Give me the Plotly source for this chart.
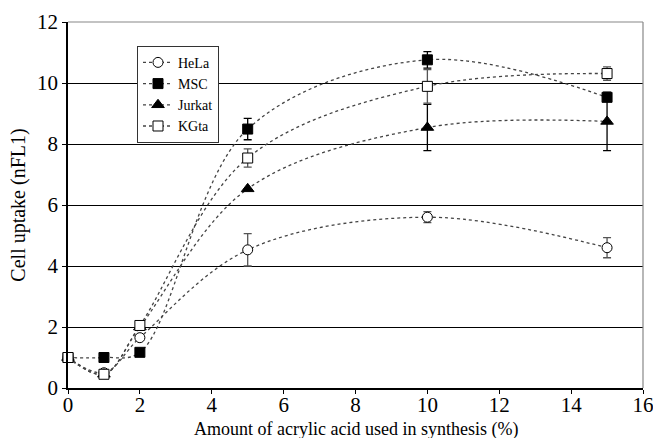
import plotly.graph_objects as go

x_vals = [0, 1, 2, 5, 10, 15]
hela = [1.0, 0.5, 1.65, 4.53, 5.6, 4.6]
hela_err = [0.0, 0.06, 0.0, 0.53, 0.18, 0.33]
msc = [1.0, 1.0, 1.17, 8.49, 10.76, 9.53]
msc_err = [0.0, 0.0, 0.0, 0.35, 0.27, 0.0]
jurkat = [1.0, 0.45, 2.0, 6.53, 8.54, 8.74]
jurkat_err = [0.0, 0.0, 0.0, 0.0, 0.76, 0.96]
kgta = [1.0, 0.45, 2.05, 7.54, 9.89, 10.31]
kgta_err = [0.0, 0.0, 0.0, 0.3, 0.55, 0.22]

names = ["HeLa", "MSC", "Jurkat", "KGta"]
series = [hela, msc, jurkat, kgta]
errs = [hela_err, msc_err, jurkat_err, kgta_err]
symbols = ["circle", "square", "triangle-up", "square"]
fills = ["white", "black", "black", "white"]
errcols = ["#555555", "black", "black", "#555555"]

x_ticks = [0, 2, 4, 6, 8, 10, 12, 14, 16]
y_ticks = [0, 2, 4, 6, 8, 10, 12]

FONT = "Liberation Serif, Times New Roman, serif"

fig = go.Figure()
for name, ys, e, sym, fc, ec in zip(names, series, errs, symbols, fills, errcols):
    fig.add_trace(go.Scatter(
        x=x_vals, y=ys, name=name, mode="lines+markers",
        line=dict(color="#444444", width=1.3, dash="dot", shape="spline", smoothing=1.0),
        marker=dict(symbol=sym, size=10 if sym != "triangle-up" else 11,
                    color=fc, line=dict(color="black", width=1)),
        error_y=dict(type="data", array=e, visible=True, color=ec, thickness=1.3, width=4),
        cliponaxis=False,
    ))

fig.update_layout(
    width=653, height=438,
    margin=dict(l=68, r=10, t=22, b=50, autoexpand=False),
    paper_bgcolor="white", plot_bgcolor="white",
    font=dict(family=FONT, color="black", size=21),
    showlegend=True,
    legend=dict(x=0.12, y=0.935, xanchor="left", yanchor="top",
                bgcolor="white", bordercolor="#333333", borderwidth=1,
                font=dict(family=FONT, size=14), itemwidth=30,
                tracegroupgap=0),
    xaxis=dict(range=[0, 16], tickvals=x_ticks, ticktext=[str(v) for v in x_ticks],
               showgrid=False, zeroline=False, showline=True, linecolor="black", linewidth=1.5,
               ticks="outside", ticklen=4, tickcolor="black", mirror=False, automargin=False,
               ticklabeloverflow="allow", ticklabelstandoff=-7),
    yaxis=dict(range=[0, 12], tickvals=y_ticks, ticktext=[str(v) for v in y_ticks],
               showgrid=True, gridcolor="black", gridwidth=1, zeroline=False,
               showline=True, linecolor="black", linewidth=1.5, automargin=False,
               ticks="outside", ticklen=4, tickcolor="black", ticklabeloverflow="allow",
               title=dict(text="Cell uptake (nFL1)", font=dict(family=FONT, size=20), standoff=6)),
    annotations=[
        dict(text="Amount of acrylic acid used in synthesis (%)", xref="paper", yref="paper",
             x=0.5, y=0, xanchor="center", yanchor="top", yshift=-29, showarrow=False,
             font=dict(family=FONT, size=18)),
    ],
    shapes=[
        dict(type="line", xref="paper", yref="paper", x0=0, x1=1, y0=1, y1=1,
             line=dict(color="#888888", width=1.2)),
        dict(type="line", xref="paper", yref="paper", x0=1, x1=1, y0=0, y1=1,
             line=dict(color="#888888", width=1.2)),
    ],
)

fig.write_html("out.html")
